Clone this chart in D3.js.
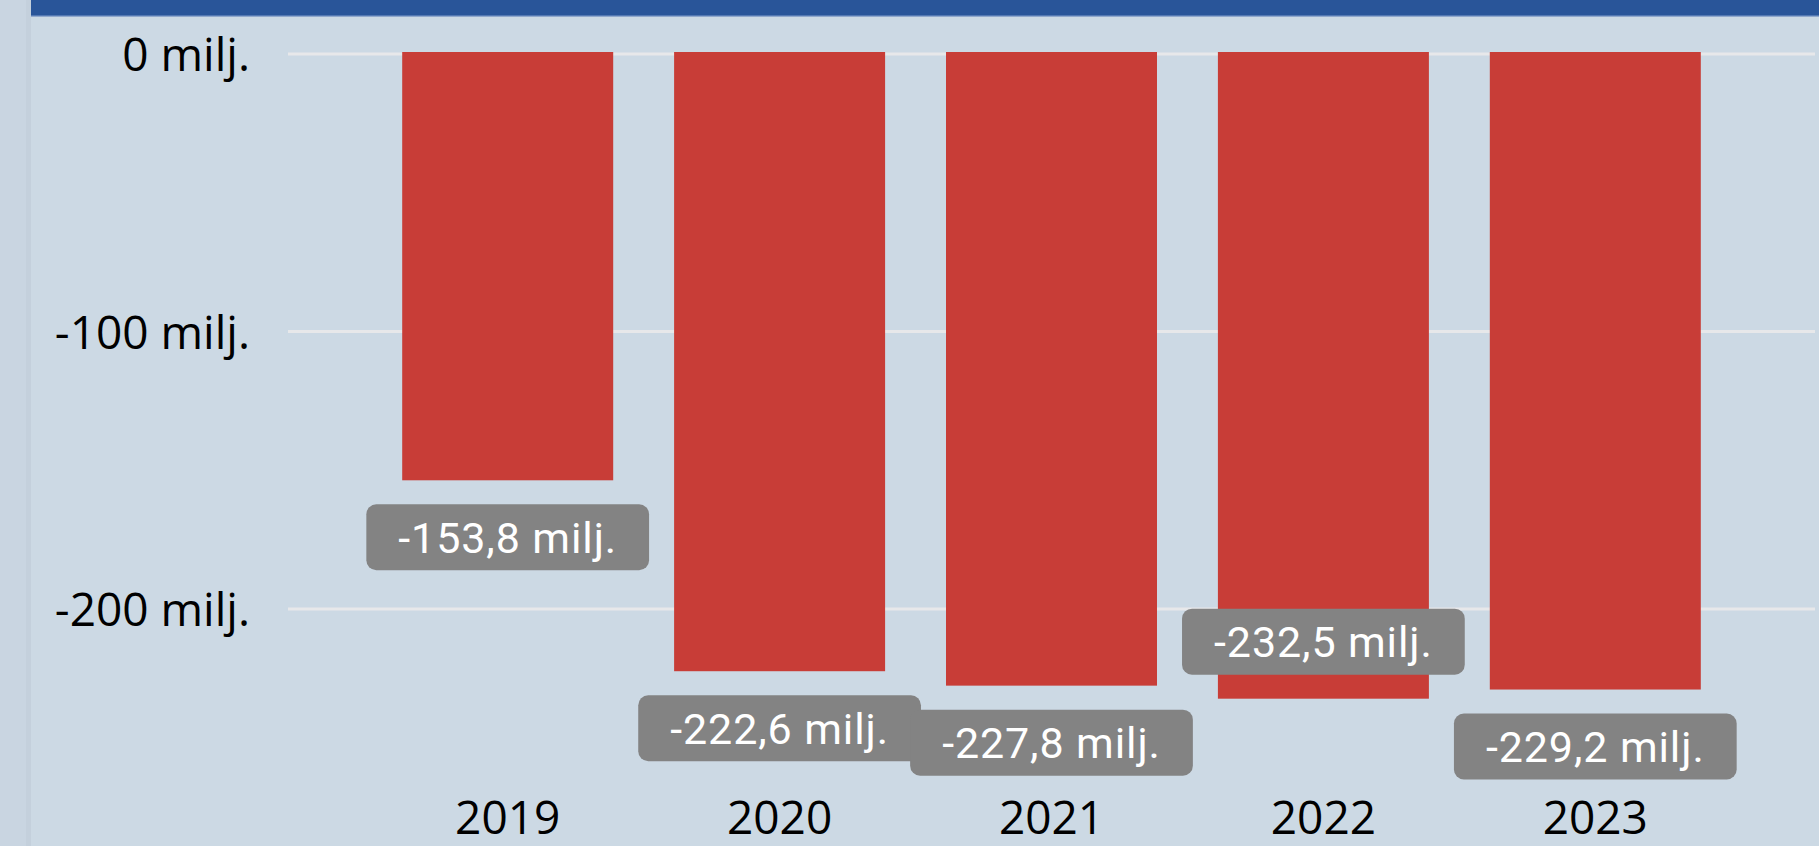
<!DOCTYPE html>
<html lang="fi">
<head>
	<meta charset="utf-8">
	<title>Tulos vuosittain</title>
	<script src="https://d3js.org/d3.v7.min.js" charset="utf-8"></script>
	<style>
		body {
			margin: 0;
			background: #ccd9e4;
			overflow: hidden;
		}
		.axis .domain {
			display: none;
		}
		.axis text {
			font-family: "Open Sans", sans-serif;
			font-size: 46px;
			fill: #000;
		}
		.grid line {
			stroke: #e7e8ea;
			stroke-width: 3px;
		}
		.label text {
			font-family: Roboto, sans-serif;
			font-size: 43px;
			letter-spacing: 0.9px;
			fill: #fff;
		}
	</style>
</head>
<body>
	<div id="chart"></div>

	<script>

	var years = ["2019", "2020", "2021", "2022", "2023"];
	var values = [-153.8, -222.6, -227.8, -232.5, -229.2]; // milj.
	var yTicks = [0, -100, -200];

	var width = 1819, height = 846;
	var plotBottom = 782; // labels below this go inside the bar end

	var svg = d3.select("#chart").append("svg")
		.attr("width", width)
		.attr("height", height);

	//------------------------------------------------------------------------
	//background panel
	svg.append("rect")
		.attr("width", width)
		.attr("height", height)
		.attr("fill", "#ccd9e4");

	svg.append("rect")
		.attr("width", 31)
		.attr("height", height)
		.attr("fill", "#c9d5e1");

	svg.append("rect")
		.attr("x", 26)
		.attr("width", 5)
		.attr("height", height)
		.attr("fill", "#c4d0dc");

	svg.append("rect")
		.attr("x", 31)
		.attr("width", width - 31)
		.attr("height", 16)
		.attr("fill", "#295599");

	svg.append("rect")
		.attr("x", 31)
		.attr("y", 15)
		.attr("width", width - 31)
		.attr("height", 1.5)
		.attr("fill", "#5479b3");

	//------------------------------------------------------------------------
	//scales
	var x = d3.scaleBand()
		.domain(years)
		.range([288, 1815])
		.paddingInner(0.224)
		.paddingOuter(0.42);

	var y = d3.scaleLinear()
		.domain([0, -250])
		.range([53.5, 53.5 + 2.775 * 250]);

	function milj(v) {
		return String(v).replace("−", "-") + " milj.";
	}

	var fmt = d3.formatLocale({decimal: ",", thousands: " ", grouping: [3], currency: ["", "€"], minus: "-"})
		.format(".1f");

	//----------------------------------
	//gridlines + y axis
	svg.append("g")
		.attr("class", "axis grid")
		.attr("transform", "translate(288,0)")
		.call(d3.axisLeft(y)
			.tickValues(yTicks)
			.tickSize(-(1815 - 288))
			.tickPadding(38)
			.tickFormat(milj))
		.selectAll("text")
		.attr("dy", 17);

	//----------------------------------
	//bars
	svg.append("g")
		.selectAll("rect")
		.data(values)
		.enter().append("rect")
		.attr("x", function(d, i) { return x(years[i]); })
		.attr("y", y(0) - 1.5)
		.attr("width", x.bandwidth())
		.attr("height", function(d) { return y(d) - y(0) + 1.5; })
		.attr("fill", "#c83d37");

	//----------------------------------
	//x axis
	svg.append("g")
		.attr("class", "axis")
		.attr("transform", "translate(0,834)")
		.call(d3.axisBottom(x).tickSize(0).tickPadding(0))
		.selectAll("text")
		.attr("y", 0)
		.attr("dy", 0);

	svg.selectAll(".axis .tick line").filter(function() {
		return !this.parentNode.parentNode.classList.contains("grid");
	}).remove();

	//----------------------------------
	//data labels, outside the bar end unless they would run past the plot
	var boxH = 66, gap = 24, padX = 32;

	values.forEach(function(v, i) {
		var cx = x(years[i]) + x.bandwidth() / 2;
		var g = svg.append("g").attr("class", "label");
		var rect = g.append("rect");
		var t = g.append("text")
			.attr("text-anchor", "middle")
			.text(fmt(v) + " milj.");
		var w = t.node().getComputedTextLength() + padX * 2;
		var top = y(v) + gap;
		if (top + boxH > plotBottom) top = y(v) - gap - boxH;
		rect.attr("x", cx - w / 2)
			.attr("y", top)
			.attr("width", w)
			.attr("height", boxH)
			.attr("rx", 10)
			.attr("fill", "#838383");
		t.attr("x", cx)
			.attr("y", top + boxH / 2 + 15.5);
	});

	</script>
</body>
</html>
